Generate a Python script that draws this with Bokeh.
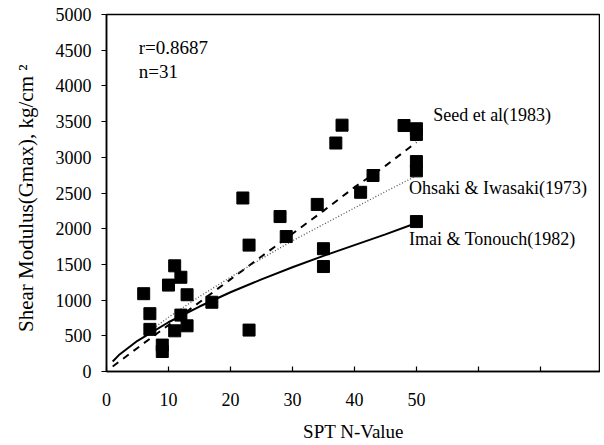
from bokeh.plotting import figure
from bokeh.models import Label, FixedTicker, Range1d
from bokeh.embed import file_html
from bokeh.resources import INLINE

# ---- data ----
spt_n = [6, 7, 7, 9, 9, 10, 11, 11, 12, 12, 13, 13, 17, 22, 23, 23, 28, 29,
         34, 35, 35, 37, 38, 41, 43, 48, 50, 50, 50, 50, 50]
gmax = [1090, 810, 590, 370, 280, 1210, 1480, 570, 1320, 790, 1075, 640, 970,
        2430, 1770, 580, 2170, 1890, 2340, 1720, 1470, 3200, 3450, 2510, 2745,
        3445, 3400, 3320, 2940, 2810, 2100]

seed_n = [1, 5, 10, 15, 20, 25, 30, 35, 40, 45, 50]
seed_g = [70, 330, 650, 970, 1290, 1610, 1930, 2250, 2580, 2880, 3210]

ohsaki_n = [8, 10, 15, 20, 25, 30, 35, 40, 45, 50]
ohsaki_g = [630, 760, 1050, 1320, 1580, 1830, 2060, 2290, 2520, 2740]

imai_n = [1, 2, 5, 10, 15, 20, 25, 30, 35, 40, 45, 50]
imai_g = [140, 230, 430, 690, 910, 1110, 1290, 1460, 1620, 1770, 1920, 2080]

x_ticks = [0, 10, 20, 30, 40, 50, 60, 70]
x_tick_labels = ["0", "10", "20", "30", "40", "50", "", ""]
y_ticks = [0, 500, 1000, 1500, 2000, 2500, 3000, 3500, 4000, 4500, 5000]

FONT = "Liberation Serif"

p = figure(width=600, height=445, x_range=Range1d(0, 79.7), y_range=Range1d(0, 5000),
           output_backend="svg", toolbar_location=None,
           min_border_left=106, min_border_right=0, min_border_top=14, min_border_bottom=74)
p.background_fill_color = "white"
p.border_fill_color = "white"
p.grid.visible = False
p.outline_line_color = "black"
p.outline_line_width = 1.5

p.xaxis.ticker = FixedTicker(ticks=x_ticks)
p.xaxis.major_label_overrides = {t: l for t, l in zip(x_ticks, x_tick_labels)}
p.xaxis.major_tick_in = 5
p.xaxis.major_tick_out = 0
p.xaxis.major_label_standoff = 21
p.xaxis.axis_label = "SPT N-Value"
p.xaxis.axis_label_standoff = 12
p.yaxis.ticker = FixedTicker(ticks=y_ticks)
p.yaxis.major_tick_in = 0
p.yaxis.major_tick_out = 5
p.yaxis.major_label_standoff = 10
p.yaxis.axis_label = "Shear Modulus(Gmax), kg/cm   \u00b2"
p.yaxis.axis_label_standoff = 15
for ax in (p.xaxis, p.yaxis):
    ax.minor_tick_line_color = None
    ax.axis_line_width = 1.5
    ax.axis_line_color = "black"
    ax.major_tick_line_color = "black"
    ax.major_tick_line_width = 1.2
    ax.major_label_text_font = FONT
    ax.major_label_text_font_size = "18px"
    ax.major_label_text_color = "black"
    ax.axis_label_text_font = FONT
    ax.axis_label_text_font_style = "normal"
    ax.axis_label_text_color = "black"
p.xaxis.axis_label_text_font_size = "19px"
p.yaxis.axis_label_text_font_size = "21px"

# curves
p.line(imai_n, imai_g, line_color="black", line_width=2)
p.line(seed_n, seed_g, line_color="black", line_width=2, line_dash="7 6")
p.line(ohsaki_n, ohsaki_g, line_color="#555555", line_width=1.3, line_dash="1 2")

# data points
p.scatter(spt_n, gmax, marker="square", size=12, fill_color="black", line_color="black")

def lab(x, y, text, size="18px", **kw):
    p.add_layout(Label(x=x, y=y, text=text, text_font=FONT, text_font_size=size,
                       text_color="black", **kw))

lab(5.2, 4396, "r=0.8687", size="19px")
lab(5.2, 4060, "n=31", size="19px")
lab(52.7, 3450, "Seed et al(1983)")
lab(48.8, 2430, "Ohsaki & Iwasaki(1973)")
lab(48.8, 1720, "Imai & Tonouch(1982)")

open("out.html", "w").write(file_html(p, INLINE))
